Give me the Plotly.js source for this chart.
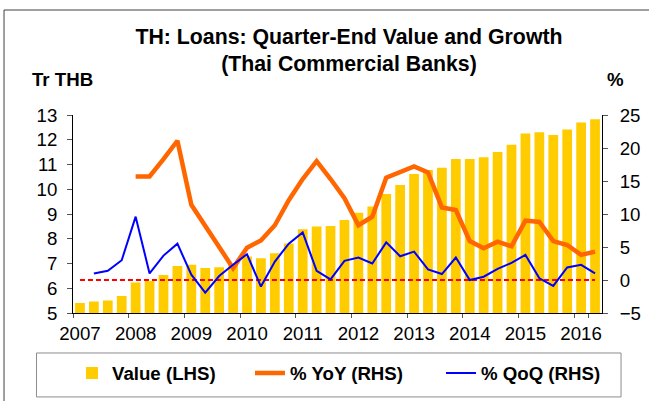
<!DOCTYPE html>
<html><head><meta charset="utf-8">
<script src="https://cdn.plot.ly/plotly-3.0.1.min.js"></script>
<style>html,body{margin:0;padding:0;background:#fff}#chart{width:649px;height:401px}</style>
</head><body><div id="chart"></div><script>
// Quarterly categories
const quarters = ['2007Q1','2007Q2','2007Q3','2007Q4','2008Q1','2008Q2','2008Q3','2008Q4',
  '2009Q1','2009Q2','2009Q3','2009Q4','2010Q1','2010Q2','2010Q3','2010Q4',
  '2011Q1','2011Q2','2011Q3','2011Q4','2012Q1','2012Q2','2012Q3','2012Q4',
  '2013Q1','2013Q2','2013Q3','2013Q4','2014Q1','2014Q2','2014Q3','2014Q4',
  '2015Q1','2015Q2','2015Q3','2015Q4','2016Q1','2016Q2'];
// Loans value, Tr THB (LHS)
const valueLHS = [5.40,5.46,5.51,5.69, 6.23,6.29,6.54,6.90, 6.95,6.82,6.85,6.98,
  7.28,7.21,7.41,7.81, 8.38,8.50,8.52,8.76, 9.05,9.30,9.81,10.17,
  10.62,10.78,10.87,11.22, 11.22,11.29,11.51,11.80, 12.25,12.30,12.19,12.41, 12.70,12.83];
// % YoY (RHS)
const yoy = [null,null,null,null, 15.7,15.7,18.3,21.1, 11.4,8.1,4.8,1.8,
  4.9,6.0,8.3,12.1, 15.3,18.0,15.3,12.4, 8.3,9.6,15.5,16.3,
  17.2,16.3,11.0,10.6, 5.9,4.8,5.8,5.1, 9.0,8.8,5.9,5.3, 3.8,4.3];
// % QoQ (RHS)
const qoq = [null,1.0,1.4,3.0, 9.6,1.0,3.7,5.5, 0.8,-1.9,0.6,2.3,
  3.9,-1.0,2.8,5.5, 7.2,1.4,0.1,2.9, 3.4,2.5,5.7,3.6,
  4.3,1.6,0.9,3.4, 0.0,0.5,1.7,2.6, 3.8,0.25,-0.9,1.9, 2.3,1.0];
// zero reference line (RHS)
const zeroRef = [0,0,0,0,0,0,0,0,0,0,0,0,0,0,0,0,0,0,0,0,0,0,0,0,0,0,0,0,0,0,0,0,0,0,0,0,0,0];
// Tick labels
const yearTicks = ['2007Q1','2008Q1','2009Q1','2010Q1','2011Q1','2012Q1','2013Q1','2014Q1','2015Q1','2016Q1'];
const yearLabels = ['2007','2008','2009','2010','2011','2012','2013','2014','2015','2016'];
const seriesNames = ['Value (LHS)','% YoY (RHS)','% QoQ (RHS)'];

const FONT = '"Liberation Sans", Arial, Helvetica, sans-serif';
const TICKC = '#555555';

const traces = [
  {type:'bar', x:quarters, y:valueLHS, name:seriesNames[0], marker:{color:'#FFCC00'}, yaxis:'y', legendwidth:133},
  {type:'scatter', mode:'lines', x:quarters, y:zeroRef, yaxis:'y2', showlegend:false, hoverinfo:'skip',
   line:{color:'#FF0000', width:2, dash:'5px,3px'}},
  {type:'scatter', mode:'lines', x:quarters, y:yoy, name:seriesNames[1], yaxis:'y2',
   line:{color:'#FF6600', width:4.5}, legendwidth:146},
  {type:'scatter', mode:'lines', x:quarters, y:qoq, name:seriesNames[2], yaxis:'y2',
   line:{color:'#0000FF', width:2}, legendwidth:130}
];

const layout = {
  width:649, height:401,
  margin:{l:73, r:47, t:115, b:88, pad:0, autoexpand:false},
  paper_bgcolor:'#ffffff', plot_bgcolor:'#ffffff',
  font:{family:FONT, size:18.67, color:'#000'},
  showlegend:true,
  bargap:0.3,
  title:{text:'<b>TH: Loans: Quarter-End Value and Growth<br>(Thai Commercial Banks)</b>',
    font:{family:FONT, size:21.3, color:'#000'},
    xref:'paper', x:0.5217, xanchor:'center', yref:'container', y:0.891, yanchor:'middle'},
  xaxis:{type:'category', range:[-0.5,37.5], tickmode:'array', tickvals:yearTicks, ticktext:yearLabels,
    tickson:'boundaries', ticks:'outside', ticklen:4, tickcolor:TICKC, tickwidth:1, tickangle:0,
    ticklabelstandoff:4,
    showline:true, linecolor:'#000', linewidth:1, showgrid:false, zeroline:false, automargin:false,
    tickfont:{family:FONT, size:18.67, color:'#000'}, fixedrange:true},
  yaxis:{range:[5,13], tick0:5, dtick:1, ticks:'outside', ticklen:5, tickcolor:TICKC, automargin:false,
    showline:true, linecolor:'#000', linewidth:1, showgrid:false, zeroline:false,
    ticklabelstandoff:6, tickfont:{family:FONT, size:18.67, color:'#000'}},
  yaxis2:{range:[-5,25], tick0:-5, dtick:5, overlaying:'y', side:'right', ticks:'outside', ticklen:5, tickcolor:TICKC,
    showline:true, linecolor:'#000', linewidth:1, showgrid:false, zeroline:false, automargin:false,
    ticklabelstandoff:8, tickfont:{family:FONT, size:18.67, color:'#000'}},
  legend:{orientation:'h', x:-0.0019, xanchor:'left', y:-0.305, yanchor:'middle',
    bgcolor:'rgba(0,0,0,0)', borderwidth:0, traceorder:'normal',
    font:{family:FONT, size:18.67, color:'#000', weight:'bold'}},
  annotations:[
    {text:'<b>Tr THB</b>', xref:'paper', yref:'paper', x:-0.0198, y:1.1768, xanchor:'center', yanchor:'middle',
     showarrow:false, font:{family:FONT, size:18.67, color:'#000'}},
    {text:'<b>%</b>', xref:'paper', yref:'paper', x:1.0246, y:1.1768, xanchor:'center', yanchor:'middle',
     showarrow:false, font:{family:FONT, size:18.67, color:'#000'}}
  ],
  shapes:[
    {type:'rect', xref:'paper', yref:'paper', x0:-0.1304, x1:1.12, y0:-0.6, y1:1.5303,
     line:{color:'#404040', width:1}, fillcolor:'rgba(0,0,0,0)', layer:'below'},
    {type:'rect', xref:'paper', yref:'paper', x0:-0.069, x1:1.036, y0:-0.424, y1:-0.202,
     line:{color:'#8c8c8c', width:1}, fillcolor:'rgba(0,0,0,0)', layer:'below'}
  ]
};

Plotly.newPlot('chart', traces, layout, {displayModeBar:false, staticPlot:true});
</script></body></html>
